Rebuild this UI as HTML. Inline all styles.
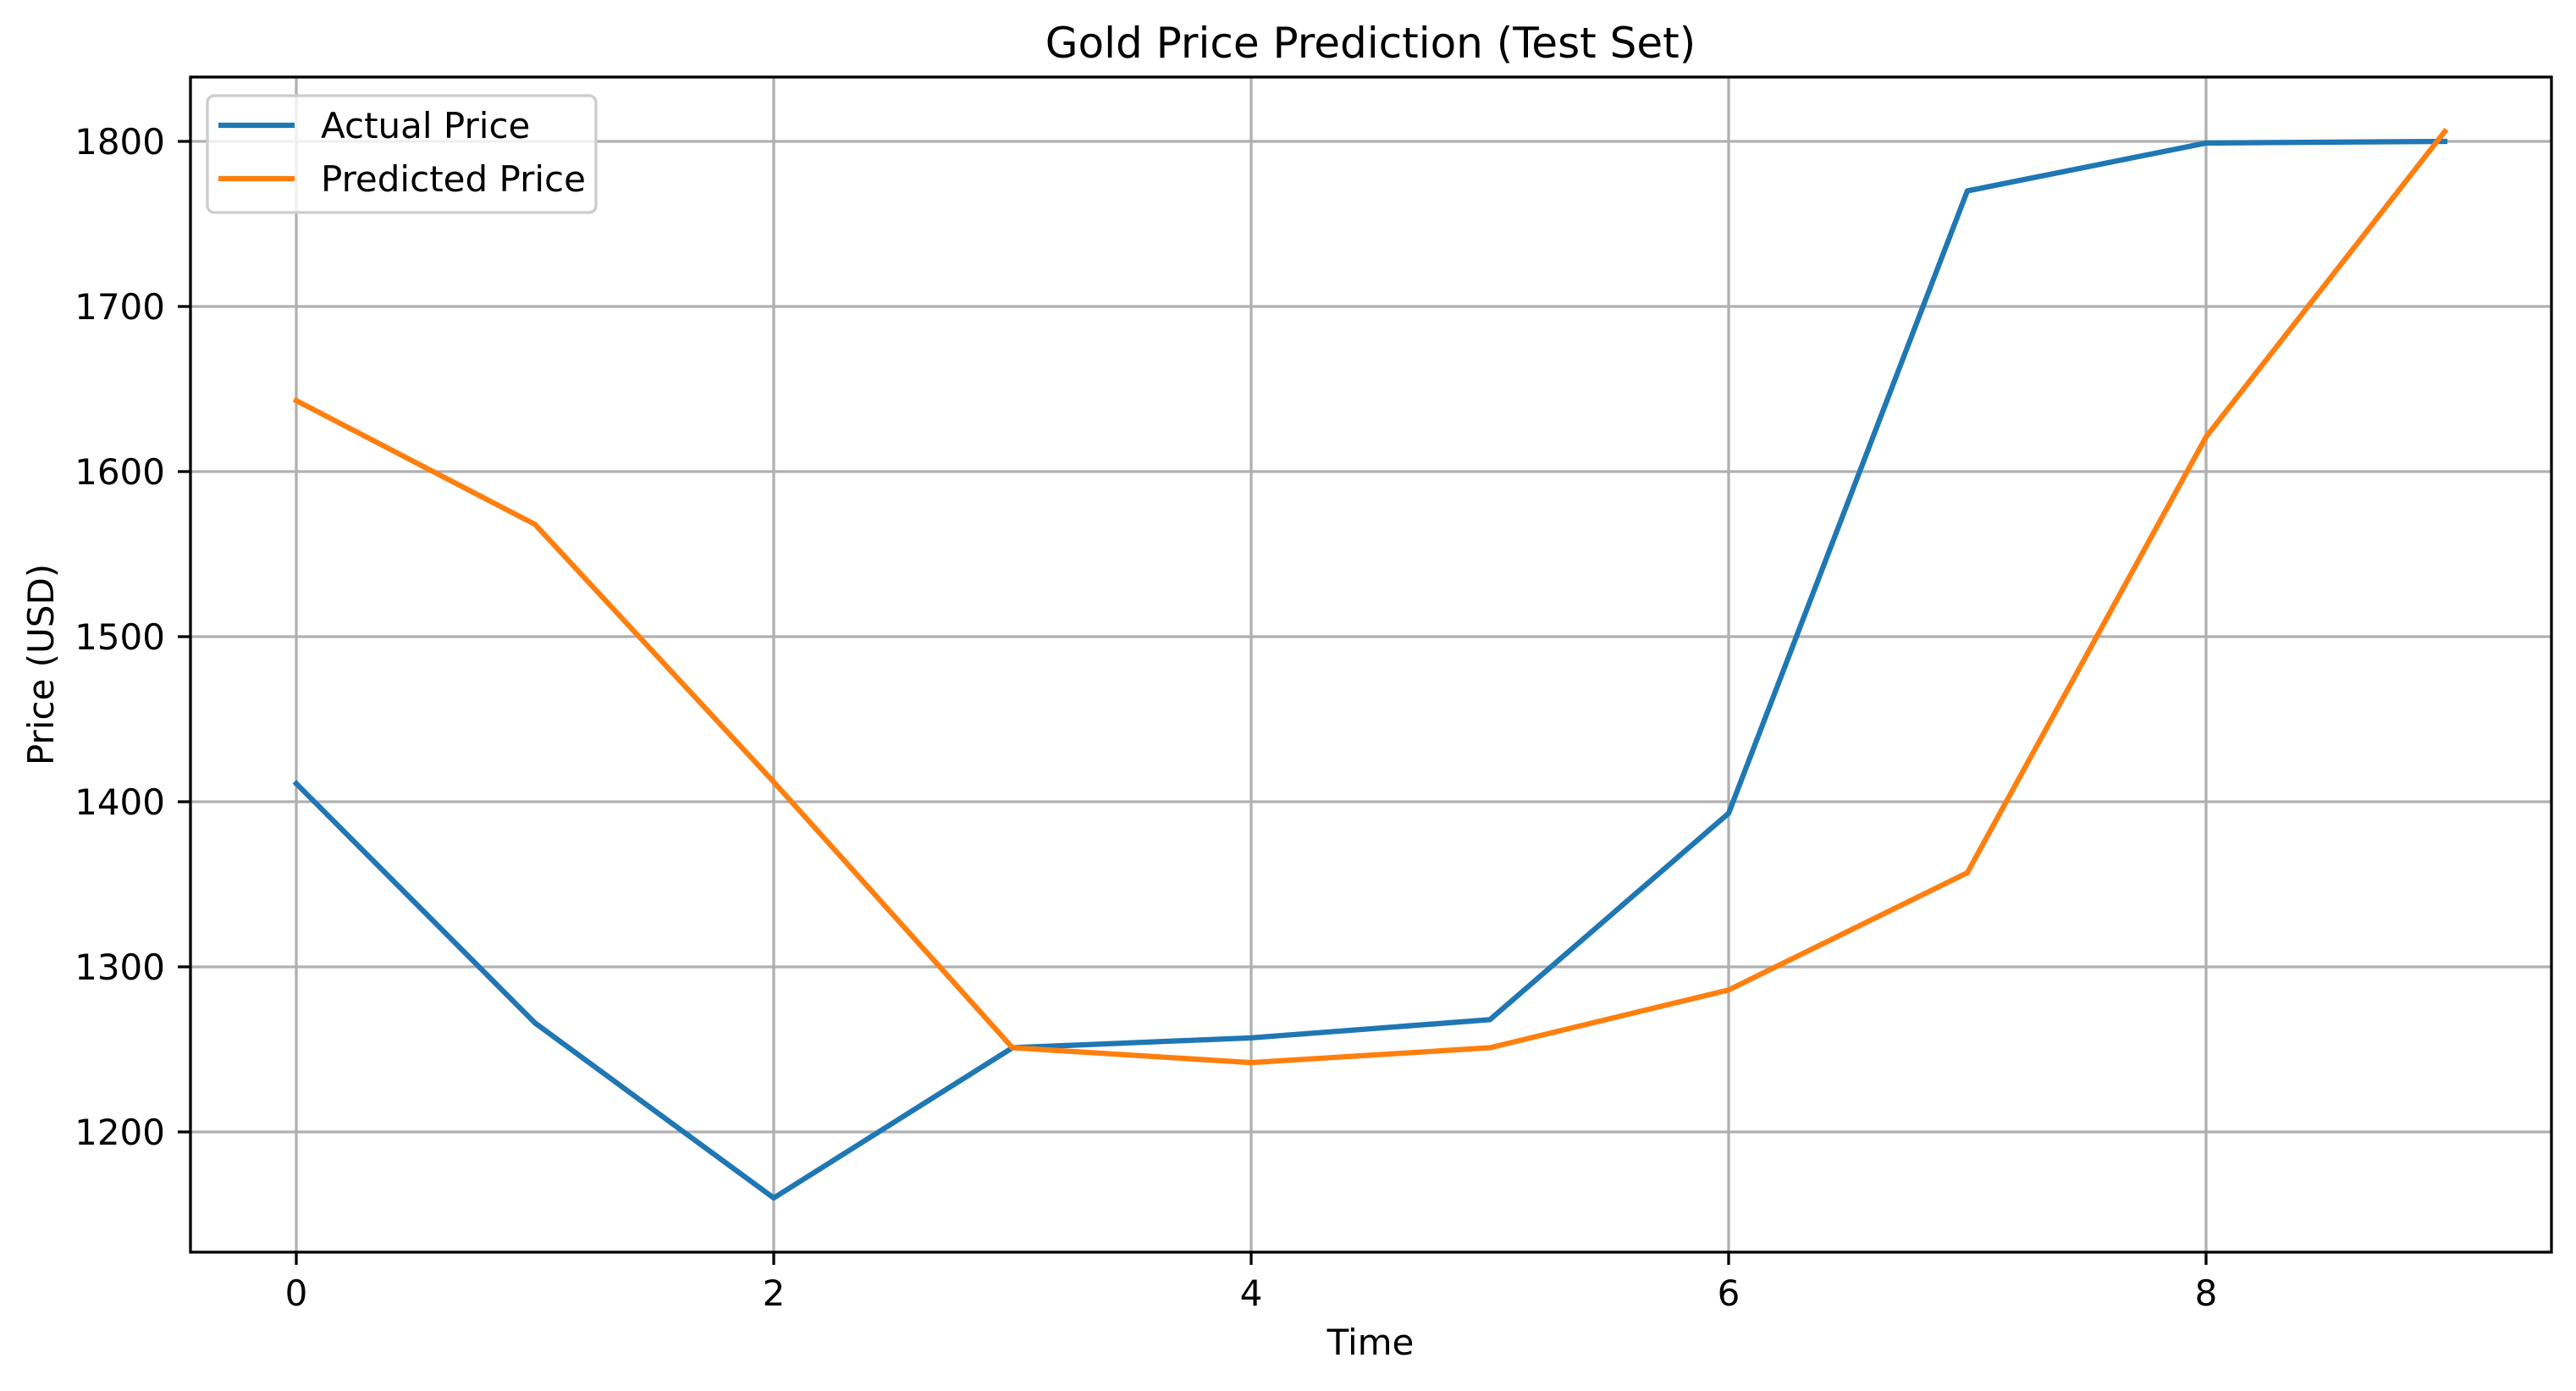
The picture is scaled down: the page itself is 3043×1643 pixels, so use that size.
<!DOCTYPE html>
<html><head><meta charset="utf-8"><style>
body{margin:0;background:#fff}
svg text{font-family:"DejaVu Sans","Liberation Sans",sans-serif;fill:#000}
</style></head><body>
<svg id="chart" width="3043" height="1638" xmlns="http://www.w3.org/2000/svg">
<rect width="3043" height="1638" fill="#fff"/>
<g id="grid"></g>
<g id="series"></g>
<rect x="225" y="91" width="2789" height="1388" fill="none" stroke="#000" stroke-width="3.3"/>
<g id="ticks"></g>
<text x="1619" y="68" font-size="50" text-anchor="middle">Gold Price Prediction (Test Set)</text>
<text x="1619" y="1600" font-size="42" text-anchor="middle">Time</text>
<text x="63" y="785" font-size="42" text-anchor="middle" transform="rotate(-90 63 785)">Price (USD)</text>
<g>
<rect x="245" y="113" width="459" height="138" rx="8" fill="#fff" fill-opacity="0.8" stroke="#ccc" stroke-width="3.3"/>
<line x1="258" y1="148" x2="348" y2="148" stroke="#1f77b4" stroke-width="6.25"/>
<text x="379" y="163" font-size="42">Actual Price</text>
<line x1="258" y1="211" x2="348" y2="211" stroke="#ff7f0e" stroke-width="6.25"/>
<text x="379" y="226" font-size="42">Predicted Price</text>
</g>
</svg>
<script>
const times=[0,1,2,3,4,5,6,7,8,9];
const actual=[1411,1266,1160,1251,1257,1268,1393,1770,1799,1800];
const predicted=[1643,1568,1412,1251,1242,1251,1286,1357,1621,1806];
const xTicks=[0,2,4,6,8];
const yTicks=[1200,1300,1400,1500,1600,1700,1800];
const NS="http://www.w3.org/2000/svg";
const X=v=>350+v*282;
const Y=v=>167+(1800-v)*1.95;
function mk(tag,attrs,parent){const e=document.createElementNS(NS,tag);for(const k in attrs)e.setAttribute(k,attrs[k]);parent.appendChild(e);return e;}
const grid=document.getElementById('grid'),ticks=document.getElementById('ticks'),series=document.getElementById('series');
xTicks.forEach(t=>{
 const g=mk('line',{x1:X(t),x2:X(t),y1:91,y2:1479,stroke:'#b0b0b0','stroke-width':3.3},grid);
 
 
 const tk=mk('line',{x1:X(t),x2:X(t),y1:1479,y2:1494,stroke:'#000','stroke-width':3.3},ticks);
 
 
 const tx=mk('text',{x:X(t),y:1542,'font-size':42,'text-anchor':'middle'},ticks);
 tx.textContent=t;
 
 
});
yTicks.forEach(t=>{
 const g=mk('line',{x1:225,x2:3014,y1:Y(t),y2:Y(t),stroke:'#b0b0b0','stroke-width':3.3},grid);
 
 
 const tk=mk('line',{x1:210,x2:225,y1:Y(t),y2:Y(t),stroke:'#000','stroke-width':3.3},ticks);
 
 
 const tx=mk('text',{x:195,y:Y(t)+15,'font-size':42,'text-anchor':'end'},ticks);
 tx.textContent=t;
 
 
});
function line(vals,color,name){
 const p=mk('polyline',{points:vals.map((v,i)=>X(times[i])+','+Y(v)).join(' '),fill:'none',stroke:color,'stroke-width':6.25,'stroke-linejoin':'round','stroke-linecap':'square'},series);
 
 
}
line(actual,'#1f77b4','actual-price-line');
line(predicted,'#ff7f0e','predicted-price-line');
</script>
</body></html>
